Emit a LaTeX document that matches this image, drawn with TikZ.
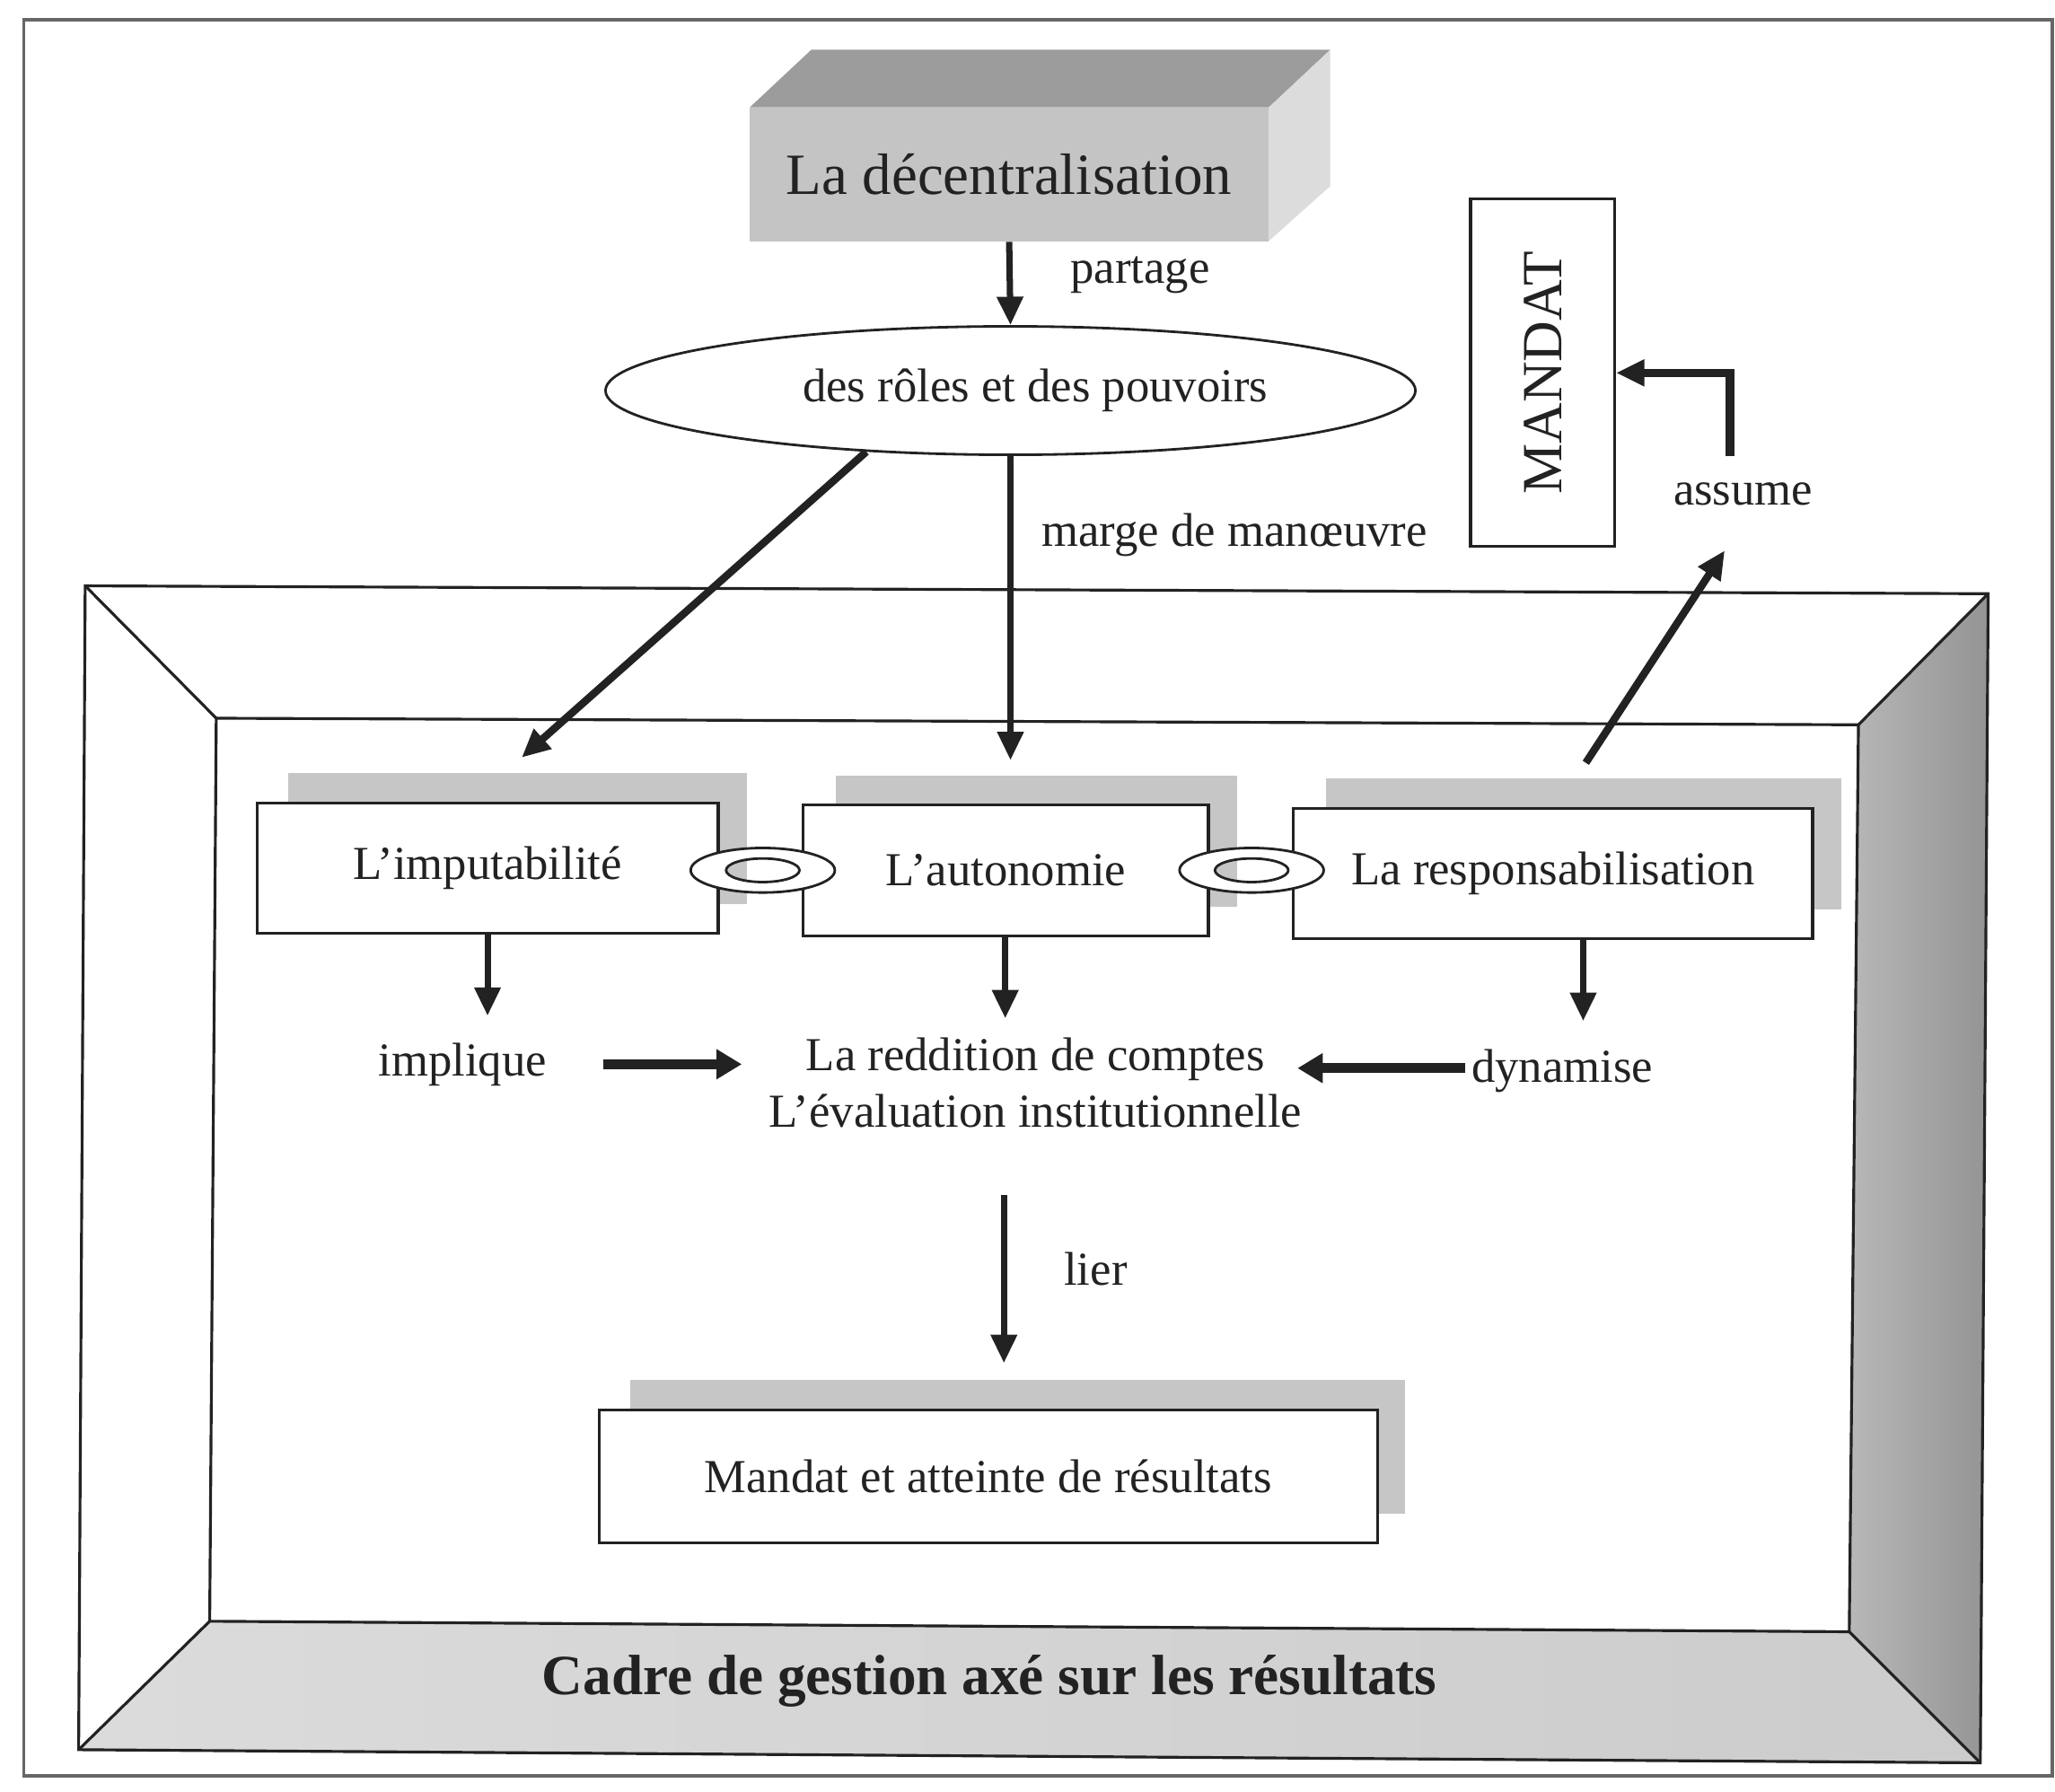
\documentclass[tikz,border=0pt]{standalone}
\usepackage{fontspec}
\setmainfont{Liberation Serif}
\usetikzlibrary{arrows.meta,shapes.geometric,calc}
\newcommand{\pxu}{0.014598cm}
\definecolor{inkc}{HTML}{222222}
\definecolor{shadowc}{HTML}{C6C6C6}
\definecolor{topc}{HTML}{9C9C9C}
\definecolor{frontc}{HTML}{C4C4C4}
\definecolor{sidec}{HTML}{DCDCDC}
\begin{document}
\begin{tikzpicture}[x=0.014598cm,y=-0.014598cm,
  every node/.style={font=\fontsize{15}{18}\selectfont, text=inkc},
  box/.style={draw=inkc, line width=0.9pt, fill=white, inner sep=0pt},
  shadowbox/.style={fill=shadowc},
  arr/.style={draw=inkc, line width=2pt, -{Triangle[length=9pt,width=8pt]}},
  harr/.style={draw=inkc, line width=3.2pt, -{Triangle[length=8pt,width=9pt]}},
  frameline/.style={draw=inkc, line width=0.9pt},
  ring/.style={fill=white, draw=inkc, line width=0.8pt, even odd rule},
]
% page area and outer border
\useasboundingbox (0,0) rectangle (1568,1367);
\draw[black!60, line width=1pt] (18,15) rectangle (1566,1355);

% bevelled frame: corners of the outer and inner outlines
\coordinate (oTL) at (65,447);  \coordinate (oTR) at (1517,453);
\coordinate (oBR) at (1511,1345); \coordinate (oBL) at (60,1335);
\coordinate (iTL) at (165,548); \coordinate (iTR) at (1418,553);
\coordinate (iBR) at (1411,1245); \coordinate (iBL) at (160,1237);
\shade[left color=black!28, right color=black!42] (oTR) -- (oBR) -- (iBR) -- (iTR) -- cycle;
\shade[left color=black!14, right color=black!20] (oBL) -- (oBR) -- (iBR) -- (iBL) -- cycle;
\draw[frameline] (oTL) -- (oTR) -- (oBR) -- (oBL) -- cycle;
\draw[frameline] (iTL) -- (iTR) -- (iBR) -- (iBL) -- cycle;
\draw[frameline] (oTL) -- (iTL) (oTR) -- (iTR) (oBR) -- (iBR) (oBL) -- (iBL);
\node (cadre) at (755,1283) {\fontsize{18}{20}\selectfont\bfseries Cadre de gestion axé sur les résultats};

% raised block
\fill[topc] (572,82) -- (619,38) -- (1015,38) -- (968,82) -- cycle;
\fill[sidec] (968,82) -- (1015,38) -- (1015,142) -- (968,184) -- cycle;
\node (dec) [fill=frontc, inner sep=0pt, minimum width=396*\pxu, minimum height=102*\pxu]
  at (770,133) {\fontsize{18.5}{22}\selectfont La décentralisation};

% ellipse
\node (roles) [ellipse, draw=inkc, line width=0.8pt, fill=white, inner sep=0pt,
  minimum width=618*\pxu, minimum height=98*\pxu] at (771,298) {};
\node (rolestxt) at (790,298) {des rôles et des pouvoirs};
\draw[arr] (dec.south) -- (roles.north);
\node (partage) at (870,210) {partage};

% MANDAT
\node (mandat) [box, minimum width=110*\pxu, minimum height=265*\pxu] at (1177,284.5) {};
\node (mandattxt) [rotate=90] at (mandat.center) {\fontsize{18}{20}\selectfont MANDAT};
\node (assume) at (1330,377) {assume};
\coordinate (asTop) at (1320,348);
\draw[arr, line width=2.6pt] (asTop) |- (mandat.east);

% shadows behind the boxes
\fill[shadowbox] (220,590) rectangle (570,690);
\fill[shadowbox] (638,592) rectangle (944,692);
\fill[shadowbox] (1012,594) rectangle (1405,694);
\fill[shadowbox] (481,1053) rectangle (1072,1155);

% boxes
\node (imp) [box, minimum width=352*\pxu, minimum height=99*\pxu] at (372,662.5) {L’imputabilité};
\node (auto) [box, minimum width=309*\pxu, minimum height=100*\pxu] at (767.5,664) {L’autonomie};
\node (resp) [box, minimum width=396*\pxu, minimum height=99*\pxu] at (1185,666.5) {La responsabilisation};
\node (mandres) [box, minimum width=594*\pxu, minimum height=101*\pxu] at (754,1126.5) {Mandat et atteinte de résultats};

% links between boxes
\path[ring] (582,664) ellipse [x radius=55, y radius=17] (582,664) ellipse [x radius=28, y radius=9];
\path[ring] (955,664) ellipse [x radius=55, y radius=17] (955,664) ellipse [x radius=28, y radius=9];

% arrows from the ellipse
\coordinate (impIn) at (398,578);
\coordinate (autoIn) at (771,580);
\draw[arr, line width=2.4pt] (roles.203) -- (impIn);
\draw[arr] (roles.south) -- (autoIn);
\node (marge) at (942,408) {marge de manœuvre};

% arrow towards assume
\coordinate (respOut) at (1210,582);
\coordinate (asBot) at (1316,420);
\draw[arr, line width=2.4pt] (respOut) -- (asBot);

% middle row
\node (implique) at (353,812) {implique};
\node (redd) [align=center] at (790,826) {La reddition de comptes\\L’évaluation institutionnelle};
\node (dyn) at (1192,817) {dynamise};
\coordinate (impDown) at (372,775);
\coordinate (autoDown) at (767,777);
\coordinate (respDown) at (1208,779);
\draw[arr] (imp.south -| impDown) -- (impDown);
\draw[arr] (auto.south -| autoDown) -- (autoDown);
\draw[arr] (resp.south -| respDown) -- (respDown);
\coordinate (impA) at (460,812); \coordinate (impB) at (566,812);
\coordinate (dynA) at (1118,815); \coordinate (dynB) at (990,815);
\draw[harr] (impA) -- (impB);
\draw[harr] (dynA) -- (dynB);

% lier
\coordinate (lierA) at (766,912);
\coordinate (lierB) at (766,1040);
\draw[arr] (lierA) -- (lierB);
\node (lier) at (836,968) {lier};
\end{tikzpicture}
\end{document}
